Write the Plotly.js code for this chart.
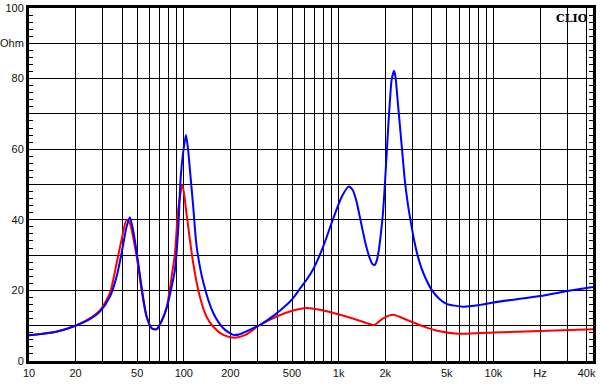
<!DOCTYPE html>
<html>
<head>
<meta charset="utf-8">
<script src="https://cdn.plot.ly/plotly-3.0.1.min.js"></script>
<style>html,body{margin:0;padding:0;background:#fff;}#chart{width:602px;height:390px;}</style>
</head>
<body>
<div id="chart"></div>
<script>
// Impedance curves (frequency in Hz, impedance in Ohm)
const blueFreq = [10,15,20,25,28.7,33.3,36.8,39.6,42.7,44.8,47,50.8,53.3,57.5,62,66.7,71.7,77.5,83.5,87.7,92,95.5,99,103.3,106.5,109.6,115,121,134,155,180,209,230,260,310,398,450,484,508,565,621,685,795,925,1050,1160,1230,1300,1370,1430,1480,1540,1600,1660,1710,1760,1820,1880,1935,1990,2040,2090,2148,2200,2280,2330,2382,2450,2568,2680,2800,2936,3100,3257,3520,4012,4500,4980,6390,8200,10000,20000,30000,44000];
const blueOhm  = [7.3,8.3,10.0,12.0,14.0,18.2,23.9,30.5,38,40.7,37.2,27.7,21.1,12.6,9.3,9.0,11.2,15.0,21.1,25.9,37.3,52,59,64,60,54,43.8,32.5,22.1,13.6,9.3,7.4,7.6,8.6,10.2,13.5,15.5,16.8,17.8,20.6,23,26.0,32.4,40.5,46.6,49.4,48.5,45.5,40.9,37,34.0,31,28.8,27.4,27.2,28.3,31.5,36.5,42,50,58,66,74,79.6,82.2,80.5,76,70,60,51,44.5,39,33.5,29.5,25,20,17.5,16.2,15.4,15.9,16.6,18.4,19.8,21.0];

const redFreq = [10,15,20,25,28.7,33.3,36.8,39.6,42.7,44.8,47,50.8,53.3,57.5,62,66.7,71.7,77.5,83.5,87.7,92,98,104,115,127,140,155,180,214,250,310,398,508,621,755,1020,1310,1600,1700,1940,2250,2750,3520,4500,5900,8200,10000,20000,44000];
const redOhm  = [7.3,8.3,10.0,12.2,14.3,19.2,27.7,34.3,40,39,35.2,26.7,20.2,12.6,9.3,9.0,11.2,15.2,24,30.6,42.9,49.9,41.9,27.7,18.2,12.6,9.7,7.4,6.6,7.4,10.2,12.6,14.3,15.0,14.5,13.1,11.7,10.4,10.2,12.1,13.1,11.7,9.8,8.4,7.7,7.9,8.1,8.5,9.0];

// Axis ticks
const xGridVals = [10,20,30,40,50,60,70,80,90,100,200,300,400,500,600,700,800,900,1000,2000,3000,4000,5000,6000,7000,8000,9000,10000,20000,30000,40000];
const xLabelVals = [10,20,50,100,200,500,1000,2000,5000,10000,20000,40000];
const xLabelText = ['10','20','50','100','200','500','1k','2k','5k','10k','Hz','40k'];
const yTickVals = [0,10,20,30,40,50,60,70,80,90,100];
const yTickText = ['0','','20','','40','','60','','80','Ohm','100'];

const xText = xGridVals.map(v => { const i = xLabelVals.indexOf(v); return i >= 0 ? xLabelText[i] : ''; });

const traces = [
  {x: redFreq, y: redOhm, type: 'scatter', mode: 'lines', line: {color: '#ff0000', width: 2, shape: 'spline', smoothing: 0.7}, hoverinfo: 'skip'},
  {x: blueFreq, y: blueOhm, type: 'scatter', mode: 'lines', line: {color: '#0000ff', width: 2, shape: 'spline', smoothing: 0.7}, hoverinfo: 'skip'}
];

const layout = {
  width: 602, height: 390,
  margin: {l: 29, r: 9, t: 8, b: 29},
  paper_bgcolor: '#ffffff', plot_bgcolor: '#ffffff',
  showlegend: false,
  font: {family: 'Liberation Sans, Arial, sans-serif', size: 11, color: '#111'},
  xaxis: {
    type: 'log', range: [1, 4.6434],
    tickvals: xGridVals, ticktext: xText,
    showgrid: true, gridcolor: '#000', gridwidth: 1,
    ticks: '', showline: true, linecolor: '#000', linewidth: 3, mirror: true,
    zeroline: false, tickfont: {size: 11, color: '#111'}
  },
  yaxis: {
    range: [0, 100], tickvals: yTickVals, ticktext: yTickText,
    showgrid: true, gridcolor: '#000', gridwidth: 1,
    ticks: 'inside', ticklen: 4, tickcolor: '#000',
    minor: {dtick: 2, ticks: 'inside', ticklen: 4, tickcolor: '#000', showgrid: false},
    showline: true, linecolor: '#000', linewidth: 3, mirror: 'ticks',
    zeroline: false, tickfont: {size: 11, color: '#111'}
  },
  annotations: [{
    xref: 'paper', yref: 'paper', x: 0.995, y: 0.995, xanchor: 'right', yanchor: 'top',
    text: '<b>CLIO</b>', showarrow: false,
    font: {family: 'DejaVu Serif, Liberation Serif, serif', size: 11, color: '#000'}
  }]
};

Plotly.newPlot('chart', traces, layout, {staticPlot: true, displayModeBar: false});
</script>
</body>
</html>
